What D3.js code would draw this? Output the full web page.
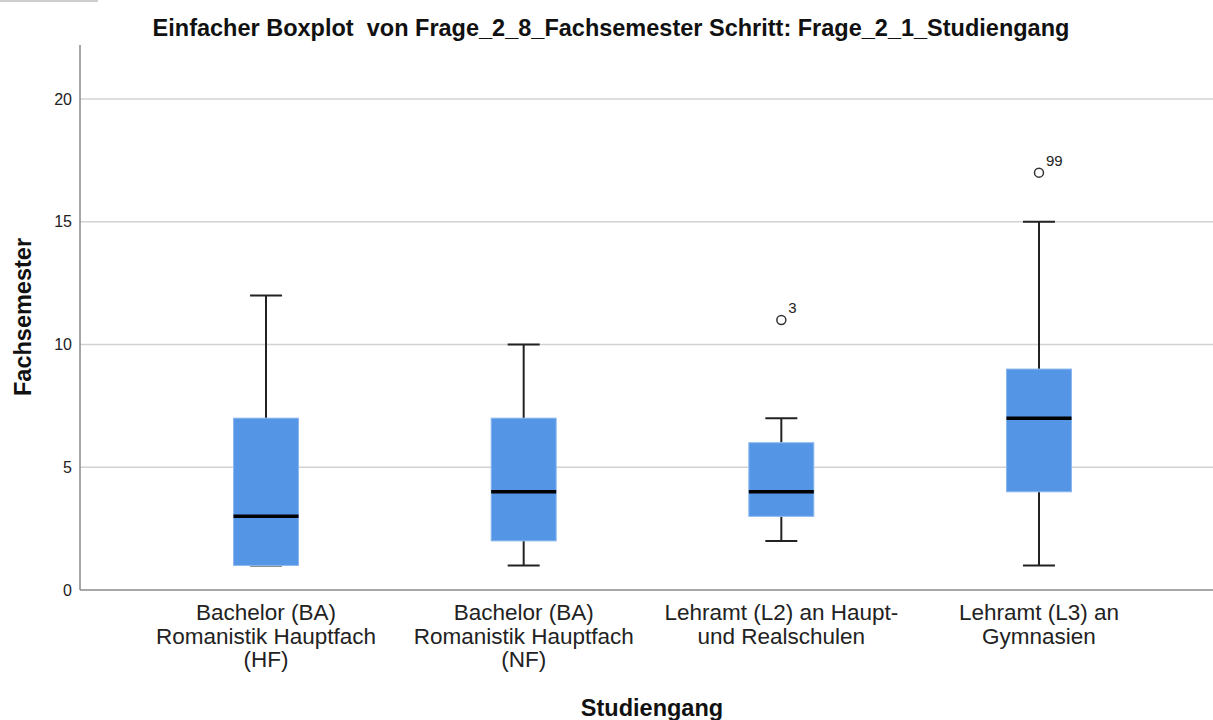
<!DOCTYPE html>
<html>
<head>
<meta charset="utf-8">
<script src="https://cdn.jsdelivr.net/npm/d3@7"></script>
<style>
body { margin: 0; background: #fff; }
text { font-family: "Liberation Sans", Arial, sans-serif; }
</style>
</head>
<body>
<div id="chart"></div>
<script>

// data
var categories = [
	"Bachelor (BA)|Romanistik Hauptfach|(HF)",
	"Bachelor (BA)|Romanistik Hauptfach|(NF)",
	"Lehramt (L2) an Haupt-|und Realschulen",
	"Lehramt (L3) an|Gymnasien"
];
var whisker_lo = [1, 1, 2, 1];
var q1 = [1, 2, 3, 4];
var median = [3, 4, 4, 7];
var q3 = [7, 7, 6, 9];
var whisker_hi = [12, 10, 7, 15];
var outlier_cat = [2, 3];
var outlier_val = [11, 17];
var outlier_lbl = ["3", "99"];
var y_ticks = [0, 5, 10, 15, 20];

// sizes
var svg_w = 1213;
var svg_h = 720;
var left = 80, right = 1225, top_ = 45, bottom = 590;

var svg = d3.select("#chart")
	.append("svg")
	.attr("width", svg_w)
	.attr("height", svg_h);

// little grey line top left
svg.append("line")
	.attr("x1", 0).attr("x2", 98)
	.attr("y1", 1).attr("y2", 1)
	.attr("stroke", "#cfcfcf")
	.attr("stroke-width", 2);

// escalas
var x = d3.scaleBand()
	.domain(d3.range(categories.length))
	.range([left, right])
	.paddingOuter(0.222)
	.paddingInner(0);

var y = d3.scaleLinear()
	.domain([0, 22.2])
	.range([bottom, top_]);

var box_w = 65;
var cap_w = 32;

// gridlines
svg.append("g")
	.selectAll("line")
	.data(y_ticks.filter(function(d) { return d > 0; }))
	.enter()
	.append("line")
	.attr("x1", left)
	.attr("x2", svg_w)
	.attr("y1", function(d) { return y(d); })
	.attr("y2", function(d) { return y(d); })
	.attr("stroke", "#d2d2d2")
	.attr("stroke-width", 1.5);

// y axis
var y_axis = d3.axisLeft(y)
	.tickValues(y_ticks)
	.tickSize(0)
	.tickPadding(8);

var gy = svg.append("g")
	.attr("transform", "translate(" + left + ",0)")
	.call(y_axis);
gy.select(".domain").remove();
gy.selectAll("text")
	.attr("font-size", 16)
	.attr("fill", "#222")
	.style("font-family", "'Liberation Sans', Arial, sans-serif");

svg.append("line")
	.attr("x1", left).attr("x2", left)
	.attr("y1", top_).attr("y2", bottom)
	.attr("stroke", "#8a8a8a")
	.attr("stroke-width", 1.5);
svg.append("line")
	.attr("x1", left).attr("x2", svg_w)
	.attr("y1", bottom).attr("y2", bottom)
	.attr("stroke", "#8a8a8a")
	.attr("stroke-width", 1.5);

// the boxes
var idx = d3.range(categories.length);
var cx = function(i) { return x(i) + x.bandwidth() / 2; };

var g = svg.append("g");

// whiskers
g.selectAll(".wh-up")
	.data(idx).enter().append("line")
	.attr("x1", cx).attr("x2", cx)
	.attr("y1", function(i) { return y(q3[i]); })
	.attr("y2", function(i) { return y(whisker_hi[i]); })
	.attr("stroke", "#222").attr("stroke-width", 2);
g.selectAll(".wh-dn")
	.data(idx).enter().append("line")
	.attr("x1", cx).attr("x2", cx)
	.attr("y1", function(i) { return y(q1[i]); })
	.attr("y2", function(i) { return y(whisker_lo[i]); })
	.attr("stroke", "#222").attr("stroke-width", 2);
g.selectAll(".cap-up")
	.data(idx).enter().append("line")
	.attr("x1", function(i) { return cx(i) - cap_w / 2; })
	.attr("x2", function(i) { return cx(i) + cap_w / 2; })
	.attr("y1", function(i) { return y(whisker_hi[i]); })
	.attr("y2", function(i) { return y(whisker_hi[i]); })
	.attr("stroke", "#222").attr("stroke-width", 2);
g.selectAll(".cap-dn")
	.data(idx).enter().append("line")
	.attr("x1", function(i) { return cx(i) - cap_w / 2; })
	.attr("x2", function(i) { return cx(i) + cap_w / 2; })
	.attr("y1", function(i) { return y(whisker_lo[i]); })
	.attr("y2", function(i) { return y(whisker_lo[i]); })
	.attr("stroke", "#222").attr("stroke-width", 2);

g.selectAll("rect")
	.data(idx).enter().append("rect")
	.attr("x", function(i) { return cx(i) - box_w / 2; })
	.attr("width", box_w)
	.attr("y", function(i) { return y(q3[i]); })
	.attr("height", function(i) { return y(q1[i]) - y(q3[i]); })
	.attr("fill", "#5595e5")
	.attr("stroke", "#8cb8ef")
	.attr("stroke-width", 1);

g.selectAll(".med")
	.data(idx).enter().append("line")
	.attr("x1", function(i) { return cx(i) - box_w / 2; })
	.attr("x2", function(i) { return cx(i) + box_w / 2; })
	.attr("y1", function(i) { return y(median[i]); })
	.attr("y2", function(i) { return y(median[i]); })
	.attr("stroke", "#000").attr("stroke-width", 3.5);

// outliers
var oi = d3.range(outlier_val.length);
g.selectAll("circle")
	.data(oi).enter().append("circle")
	.attr("cx", function(j) { return cx(outlier_cat[j]); })
	.attr("cy", function(j) { return y(outlier_val[j]); })
	.attr("r", 4.5)
	.attr("fill", "#fff")
	.attr("stroke", "#333")
	.attr("stroke-width", 1.5);
g.selectAll(".olbl")
	.data(oi).enter().append("text")
	.attr("x", function(j) { return cx(outlier_cat[j]) + 7; })
	.attr("y", function(j) { return y(outlier_val[j]) - 7; })
	.attr("font-size", 15)
	.attr("fill", "#222")
	.text(function(j) { return outlier_lbl[j]; });

// x labels
var xl = svg.append("g").selectAll("text")
	.data(idx).enter().append("text")
	.attr("text-anchor", "middle")
	.attr("font-size", 22.5)
	.attr("fill", "#222")
	.attr("transform", function(i) { return "translate(" + cx(i) + ",620)"; });
xl.each(function(i) {
	var lines = categories[i].split("|");
	var t = d3.select(this);
	lines.forEach(function(s, k) {
		t.append("tspan").attr("x", 0).attr("y", k * 23.5).text(s);
	});
});

// titles
svg.append("text")
	.attr("x", 611).attr("y", 36)
	.attr("text-anchor", "middle")
	.attr("font-size", 23.5)
	.attr("font-weight", "bold")
	.attr("fill", "#111")
	.text("Einfacher Boxplot  von Frage_2_8_Fachsemester Schritt: Frage_2_1_Studiengang")
	.style("white-space", "pre");

svg.append("text")
	.attr("x", 652).attr("y", 716)
	.attr("text-anchor", "middle")
	.attr("font-size", 23.5)
	.attr("font-weight", "bold")
	.attr("fill", "#111")
	.text("Studiengang");

svg.append("text")
	.attr("transform", "translate(31,317) rotate(-90)")
	.attr("text-anchor", "middle")
	.attr("font-size", 23.5)
	.attr("font-weight", "bold")
	.attr("fill", "#111")
	.text("Fachsemester");

</script>
</body>
</html>
